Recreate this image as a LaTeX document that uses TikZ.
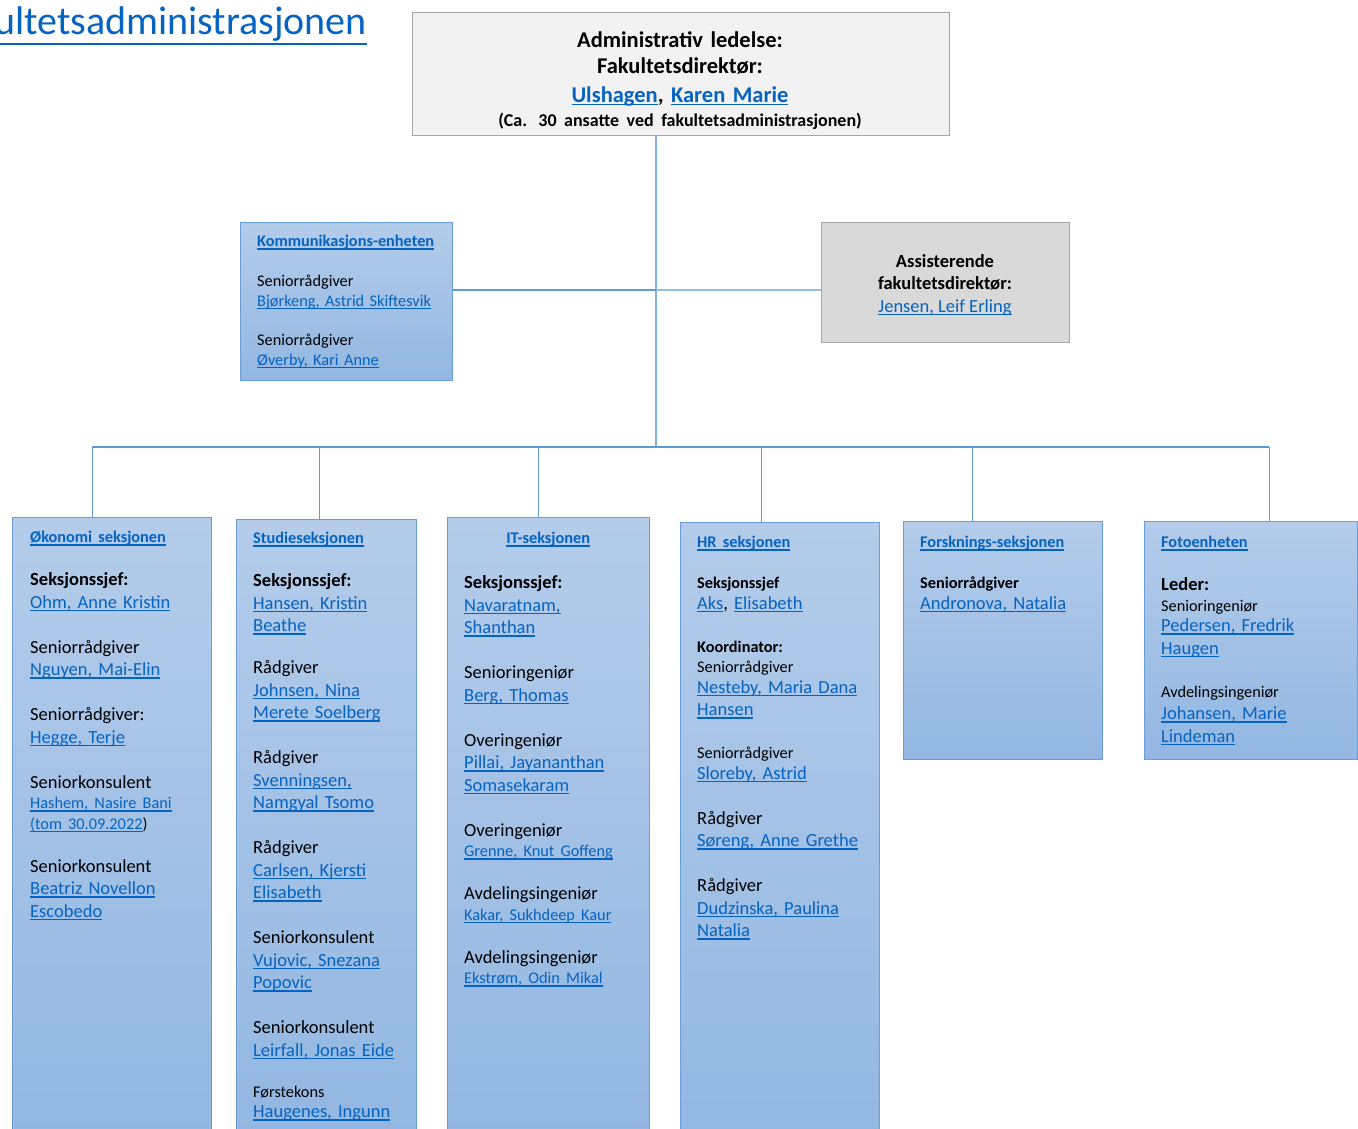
\documentclass[tikz,border=0pt]{standalone}
\usepackage{fontspec}
\setmainfont{Carlito}
\usetikzlibrary{positioning,calc}
\definecolor{orglink}{RGB}{5,99,193}
\definecolor{unittop}{RGB}{180,204,234}
\definecolor{unitbot}{RGB}{146,183,226}
\definecolor{unitedge}{RGB}{108,158,214}
\definecolor{orgline}{RGB}{91,155,213}
\definecolor{leadfill}{RGB}{242,242,242}
\definecolor{assistfill}{RGB}{217,217,217}
\definecolor{greyedge}{RGB}{166,166,166}
\newcommand\fbig{\fontsize{18.5}{22.5}\selectfont}
\newcommand\fsml{\fontsize{16.3}{20.5}\selectfont}
\newcommand\ftop{\fontsize{22.5}{26.8}\selectfont}
% small line followed directly by a big one
\newcommand\tobig{\vspace{-2pt}\fbig}
% underlined hyperlink look
\newcommand\lnk[1]{\textcolor{orglink}{\setbox0\hbox{#1}\rlap{\vrule height -1.8pt depth 3pt width \wd0}\box0}}
\newcommand\lnkbig[1]{\textcolor{orglink}{\setbox0\hbox{#1}\rlap{\vrule height -8pt depth 10pt width \wd0}\box0}}
\newcommand\blank{\mbox{}\par}
\newcommand\unitsetup{\parindent=0pt\parskip=0pt}

\begin{document}
\begin{tikzpicture}[
    x=1pt, y=-1pt,
    unitbox/.style={draw=unitedge, line width=1pt, top color=unittop, bottom color=unitbot, inner sep=0pt, anchor=north west},
    greybox/.style={draw=greyedge, line width=1pt, inner sep=0pt, anchor=north west},
    unittext/.style={anchor=north west, inner sep=0pt, align=left, font=\unitsetup\fbig},
    connector/.style={draw=orgline, line width=1pt}
]
    \useasboundingbox (0,0) rectangle (1358,1129);

    % Title (cut off at the left edge)
    \begin{scope}
        \clip (0,0) rectangle (1358,1129);
        \node[anchor=base east, inner sep=0pt, font=\fontsize{40}{48}\selectfont] (title) at (367,35) {\lnkbig{Fakultetsadministrasjonen}};
    \end{scope}

    % Leadership
    \node[greybox, fill=leadfill, minimum width=537, minimum height=123] (ledelse) at (412,12) {};
    \node[anchor=north, inner sep=0pt, align=center, text width=520, font=\unitsetup\ftop] (ledelse-txt) at (680,31) {%
        \textbf{Administrativ ledelse:}\par
        \textbf{Fakultetsdirektør:}\par
        \vspace{1.5pt}\textbf{\lnk{Ulshagen}, \lnk{Karen Marie}}\par
        \fontsize{18}{24}\selectfont\textbf{(Ca. 30 ansatte ved fakultetsadministrasjonen)}\par};

    % Staff units beside the line
    \node[unitbox, minimum width=212, minimum height=158] (komm) at (240,222) {};
    \node[unittext, text width=190, font=\unitsetup\fontsize{16.3}{19.8}\selectfont] (komm-txt) at (257,235) {%
        \textbf{\lnk{Kommunikasjons-enheten}}\par\blank
        Seniorrådgiver\par
        \lnk{Bjørkeng, Astrid Skiftesvik}\par\blank
        Seniorrådgiver\par
        \lnk{Øverby, Kari Anne}\par};

    \node[greybox, fill=assistfill, minimum width=248, minimum height=120] (assist) at (821,222) {};
    \node[align=center, inner sep=0pt, font=\fbig] (assist-txt) at (945,285)
        {\textbf{Assisterende}\\\textbf{fakultetsdirektør:}\\\lnk{Jensen, Leif Erling}};

    % Sections
    \node[unitbox, minimum width=199, minimum height=620] (oko) at (12,517) {};
    \node[unitbox, minimum width=180, minimum height=620] (studie) at (236,519) {};
    \node[unitbox, minimum width=202, minimum height=620] (it) at (447,517) {};
    \node[unitbox, minimum width=199, minimum height=620] (hr) at (680,522) {};
    \node[unitbox, minimum width=199, minimum height=238] (forsk) at (903,521) {};
    \node[unitbox, minimum width=213, minimum height=238] (foto) at (1144,521) {};

    \node[unittext, text width=175] (oko-txt) at (30,531) {%
        \fsml\textbf{\lnk{Økonomi seksjonen}}\par\blank
        \fbig\textbf{Seksjonssjef:}\par
        \lnk{Ohm, Anne Kristin}\par\blank
        Seniorrådgiver\par
        \lnk{Nguyen, Mai-Elin}\par\blank
        Seniorrådgiver:\par
        \lnk{Hegge, Terje}\par\blank
        Seniorkonsulent\par
        \fsml\lnk{Hashem, Nasire Bani}\par
        \lnk{(tom 30.09.2022})\par\blank
        \fbig Seniorkonsulent\par
        \lnk{Beatriz Novellon}\par
        \lnk{Escobedo}\par};

    \node[unittext, text width=160] (studie-txt) at (253,532) {%
        \fsml\textbf{\lnk{Studieseksjonen}}\par\blank
        \fbig\textbf{Seksjonssjef:}\par
        \lnk{Hansen, Kristin}\par
        \lnk{Beathe}\par\blank\vspace{-3pt}
        Rådgiver\par
        \lnk{Johnsen, Nina}\par
        \lnk{Merete Soelberg}\par\blank
        Rådgiver\par
        \lnk{Svenningsen,}\par
        \lnk{Namgyal Tsomo}\par\blank
        Rådgiver\par
        \lnk{Carlsen, Kjersti}\par
        \lnk{Elisabeth}\par\blank
        Seniorkonsulent\par
        \lnk{Vujovic, Snezana}\par
        \lnk{Popovic}\par\blank
        Seniorkonsulent\par
        \lnk{Leirfall, Jonas Eide}\par\blank\vspace{-2pt}
        \fsml Førstekons\par
        \tobig\lnk{Haugenes, Ingunn}\par};

    \node[unittext, text width=168] (it-txt) at (464,532) {%
        {\centering\fsml\textbf{\lnk{IT-seksjonen}}\par}\blank
        \fbig\textbf{Seksjonssjef:}\par
        \lnk{Navaratnam,}\par
        \lnk{Shanthan}\par\blank
        Senioringeniør\par
        \lnk{Berg, Thomas}\par\blank
        Overingeniør\par
        \lnk{Pillai, Jayananthan}\par
        \lnk{Somasekaram}\par\blank
        Overingeniør\par
        \fsml\lnk{Grenne, Knut Goffeng}\par\blank
        \fbig Avdelingsingeniør\par
        \fsml\lnk{Kakar, Sukhdeep Kaur}\par\blank
        \fbig Avdelingsingeniør\par
        \fsml\lnk{Ekstrøm, Odin Mikal}\par};

    \node[unittext, text width=178] (hr-txt) at (697,536) {%
        \fsml\textbf{\lnk{HR seksjonen}}\par\blank
        \textbf{Seksjonssjef}\par
        \tobig\lnk{Aks}, \lnk{Elisabeth}\par\blank
        \fsml\textbf{Koordinator:}\par
        Seniorrådgiver\par
        \tobig\lnk{Nesteby, Maria Dana}\par
        \lnk{Hansen}\par\blank
        \fsml Seniorrådgiver\par
        \tobig\lnk{Sloreby, Astrid}\par\blank
        Rådgiver\par
        \lnk{Søreng, Anne Grethe}\par\blank
        Rådgiver\par
        \lnk{Dudzinska, Paulina}\par
        \lnk{Natalia}\par};

    \node[unittext, text width=178] (forsk-txt) at (920,536) {%
        \fsml\textbf{\lnk{Forsknings-seksjonen}}\par\blank
        \textbf{Seniorrådgiver}\par
        \tobig\lnk{Andronova, Natalia}\par};

    \node[unittext, text width=180] (foto-txt) at (1161,536) {%
        \fsml\textbf{\lnk{Fotoenheten}}\par\blank
        \fbig\textbf{Leder:}\par
        \fsml Senioringeniør\par
        \tobig\lnk{Pedersen, Fredrik}\par
        \lnk{Haugen}\par\blank
        \fsml Avdelingsingeniør\par
        \fbig\lnk{Johansen, Marie}\par
        \lnk{Lindeman}\par};

    % Lines
    \coordinate (hub) at (656,447);
    \coordinate (mid) at (656,290);
    \coordinate (j1) at (92,447);
    \coordinate (j2) at (319,447);
    \coordinate (j3) at (538,447);
    \coordinate (j4) at (761,447);
    \coordinate (j5) at (972,447);
    \coordinate (j6) at (1269,447);

    \draw[connector, draw=orgline!75, line width=1.5pt] (ledelse.south -| hub) -- (hub);
    \draw[connector, line width=2pt] (komm.east |- mid) -- (mid);
    \draw[connector, draw=orgline!65, line width=1.5pt] (mid) -- (assist.west |- mid);
    \draw[connector, line width=2pt] (j1) -- (j6);
    \draw[connector] (j1) -- (oko.north -| j1);
    \draw[connector] (j2) -- (studie.north -| j2);
    \draw[connector] (j3) -- (it.north -| j3);
    \draw[connector] (j4) -- (hr.north -| j4);
    \draw[connector] (j5) -- (forsk.north -| j5);
    \draw[connector] (j6) -- (foto.north -| j6);
\end{tikzpicture}
\end{document}
